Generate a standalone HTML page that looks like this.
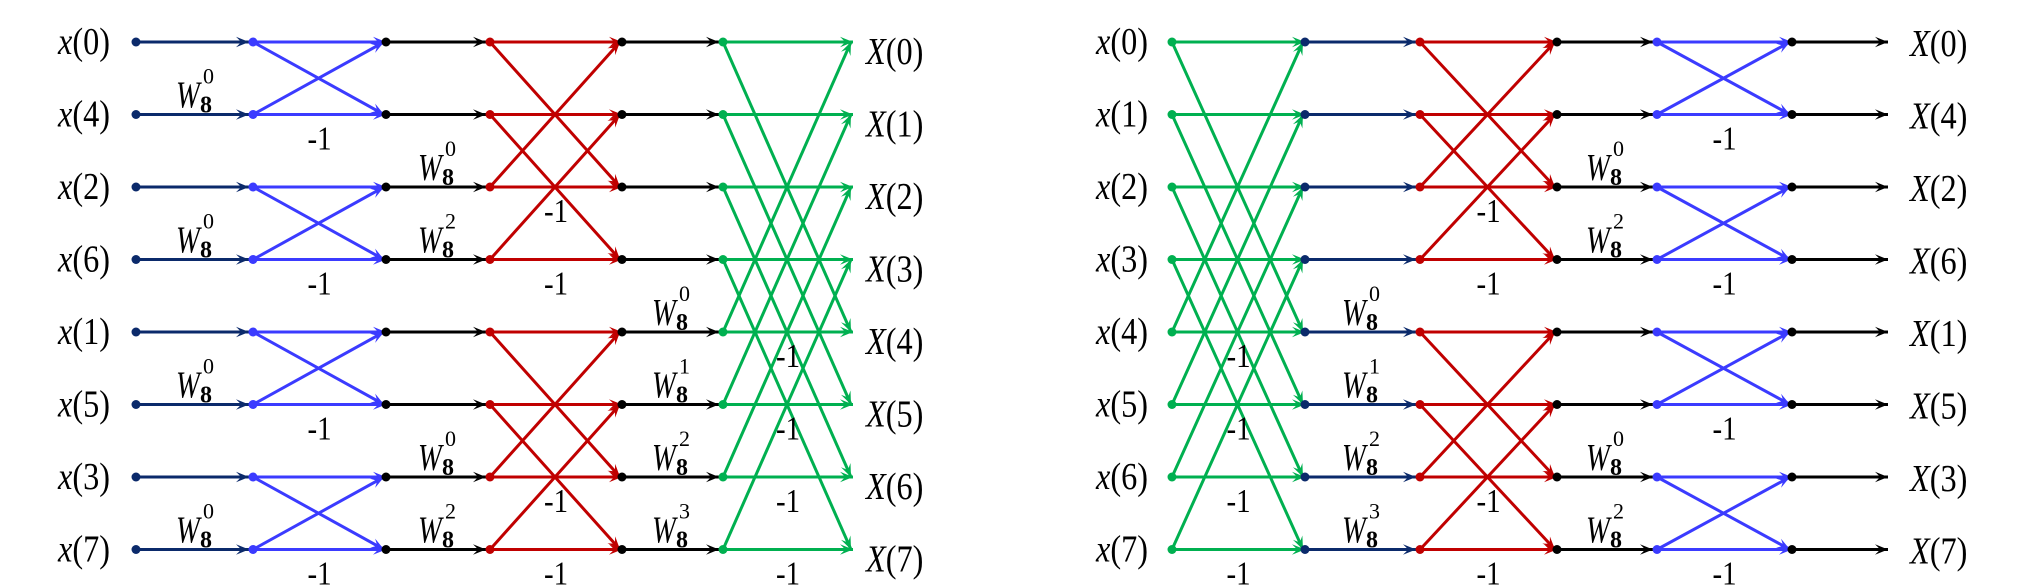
<!DOCTYPE html>
<html><head><meta charset="utf-8"><style>
html,body{margin:0;padding:0;background:#fff;}
svg{display:block;}
</style></head><body>
<svg id="fig" width="2026" height="586" viewBox="0 0 2026 586" xmlns="http://www.w3.org/2000/svg" font-family="'Liberation Serif', 'DejaVu Serif', serif"></svg>
<script>
// ---- data ----
const rowBase = 42;
const rowStep = 72.5;
const leftInputs = ["0","4","2","6","1","5","3","7"];
const leftOutputs = ["0","1","2","3","4","5","6","7"];
const rightInputs = ["0","1","2","3","4","5","6","7"];
const rightOutputs = ["0","4","2","6","1","5","3","7"];
const leftSpans = [1,2,4];
const rightSpans = [4,2,1];
const leftColors = ["#3b3bff","#c00000","#00b050"];
const rightColors = ["#00b050","#c00000","#3b3bff"];
const leftTw = [
  [null,0,null,0,null,0,null,0],
  [null,null,0,2,null,null,0,2],
  [null,null,null,null,0,1,2,3]
];
const rightTw = [
  [null,null,null,null,null,null,null,null],
  [null,null,null,null,0,1,2,3],
  [null,null,0,2,null,null,0,2]
];
const leftCols = [136,253,386,490,622,723,853];
const rightCols = [1172,1172,1305,1420,1557,1657,1792,1888];

const svg = document.getElementById('fig');
const NS = "http://www.w3.org/2000/svg";
const SERIF = "'Liberation Serif', 'DejaVu Serif', serif";
function rowY(i){ return rowBase + rowStep*i; }
function el(tag, attrs, parent){
  const e = document.createElementNS(NS, tag);
  for (const k in attrs) e.setAttribute(k, attrs[k]);
  (parent||svg).appendChild(e);
  return e;
}
function arrow(x1,y1,x2,y2,color,g){
  el('line',{x1:x1,y1:y1,x2:x2,y2:y2,stroke:color,'stroke-width':3},g);
  const a = Math.atan2(y2-y1,x2-x1), L=14, w=0.38;
  const p = [[x2,y2],[x2-L*Math.cos(a-w),y2-L*Math.sin(a-w)],[x2-L*0.55*Math.cos(a),y2-L*0.55*Math.sin(a)],[x2-L*Math.cos(a+w),y2-L*Math.sin(a+w)]];
  el('polygon',{points:p.map(q=>q.join(',')).join(' '),fill:color},g);
}
function dot(x,y,color,g){ el('circle',{cx:x,cy:y,r:4.5,fill:color},g); }
function tw(x,y,exp,g){
  const t = el('text',{x:x,y:y-7,'font-size':38,'font-style':'italic','font-family':SERIF,transform:`translate(${x},0) scale(0.75,1) translate(${-x},0)`},g);
  t.textContent = 'W';
  const s = el('text',{x:x+27,y:y-31,'font-size':22,'font-family':SERIF},g); s.textContent = exp;
  const b = el('text',{x:x+24,y:y-2,'font-size':24,'font-weight':'bold','font-family':SERIF},g); b.textContent = '8';
}
function minus(x,y,g){
  const t = el('text',{x:x,y:y,'font-size':34,'text-anchor':'middle','font-family':SERIF,transform:`translate(${x},0) scale(0.85,1) translate(${-x},0)`},g); t.textContent='-1';
}
function label(x,y,txt,upper,g){
  const t = el('text',{x:x,y:y+12,'font-size':38,'font-family':SERIF,transform:`translate(${x},0) scale(0.85,1) translate(${-x},0)`},g);
  const a = document.createElementNS(NS,'tspan'); a.setAttribute('font-style','italic'); a.textContent = upper?'X':'x'; t.appendChild(a);
  const b = document.createElementNS(NS,'tspan'); b.textContent='('+txt+')'; t.appendChild(b);
}
function butterfly(xa,xb,span,color,g){
  for (let i=0;i<8;i++){
    const top = (Math.floor(i/span)%2)===0;
    const j = top? i+span : i-span;
    arrow(xa,rowY(i),xb,rowY(i),color,g);
    arrow(xa,rowY(i),xb-2,rowY(j),color,g);
    dot(xa,rowY(i),color,g);
  }
}
function minusLabels(xa,xb,span,g){
  for (let i=0;i<8;i++){
    if ((Math.floor(i/span)%2)===1){
      minus((xa+xb)/2, rowY(i)+35, g);
    }
  }
}

// ---------- LEFT DIAGRAM ----------
const L = el('g',{});  
for (let i=0;i<8;i++){
  label(58,rowY(i),leftInputs[i],false,L);
  arrow(leftCols[0],rowY(i),leftCols[1]-4,rowY(i),'#0b2a6b',L);
  dot(leftCols[0],rowY(i),'#0b2a6b',L);
  if (leftTw[0][i]!==null) tw(176,rowY(i),leftTw[0][i],L);
}
butterfly(leftCols[1],leftCols[2],leftSpans[0],leftColors[0],L);
minusLabels(leftCols[1],leftCols[2],1,L);
for (let i=0;i<8;i++){
  arrow(leftCols[2],rowY(i),leftCols[3]-4,rowY(i),'#000',L); dot(leftCols[2],rowY(i),'#000',L);
  if (leftTw[1][i]!==null) tw(418,rowY(i),leftTw[1][i],L);
}
butterfly(leftCols[3],leftCols[4],leftSpans[1],leftColors[1],L);
minusLabels(leftCols[3],leftCols[4],2,L);
for (let i=0;i<8;i++){
  arrow(leftCols[4],rowY(i),leftCols[5]-4,rowY(i),'#000',L); dot(leftCols[4],rowY(i),'#000',L);
  if (leftTw[2][i]!==null) tw(652,rowY(i),leftTw[2][i],L);
}
butterfly(leftCols[5],leftCols[6],leftSpans[2],leftColors[2],L);
minusLabels(leftCols[5],leftCols[6],4,L);
for (let i=0;i<8;i++) label(866,rowY(i)+10,leftOutputs[i],true,L);

// ---------- RIGHT DIAGRAM ----------
const R = el('g',{});  
for (let i=0;i<8;i++) label(1096,rowY(i),rightInputs[i],false,R);
butterfly(rightCols[1],rightCols[2],rightSpans[0],rightColors[0],R);
minusLabels(rightCols[1],rightCols[2],4,R);
for (let i=0;i<8;i++){
  arrow(rightCols[2],rowY(i),rightCols[3]-4,rowY(i),'#0b2a6b',R); dot(rightCols[2],rowY(i),'#0b2a6b',R);
  if (rightTw[1][i]!==null) tw(1342,rowY(i),rightTw[1][i],R);
}
butterfly(rightCols[3],rightCols[4],rightSpans[1],rightColors[1],R);
minusLabels(rightCols[3],rightCols[4],2,R);
for (let i=0;i<8;i++){
  arrow(rightCols[4],rowY(i),rightCols[5]-4,rowY(i),'#000',R); dot(rightCols[4],rowY(i),'#000',R);
  if (rightTw[2][i]!==null) tw(1586,rowY(i),rightTw[2][i],R);
}
butterfly(rightCols[5],rightCols[6],rightSpans[2],rightColors[2],R);
minusLabels(rightCols[5],rightCols[6],1,R);
for (let i=0;i<8;i++){
  arrow(rightCols[6],rowY(i),rightCols[7],rowY(i),'#000',R); dot(rightCols[6],rowY(i),'#000',R);
  label(1910,rowY(i)+2,rightOutputs[i],true,R);
}
</script>
</body></html>
